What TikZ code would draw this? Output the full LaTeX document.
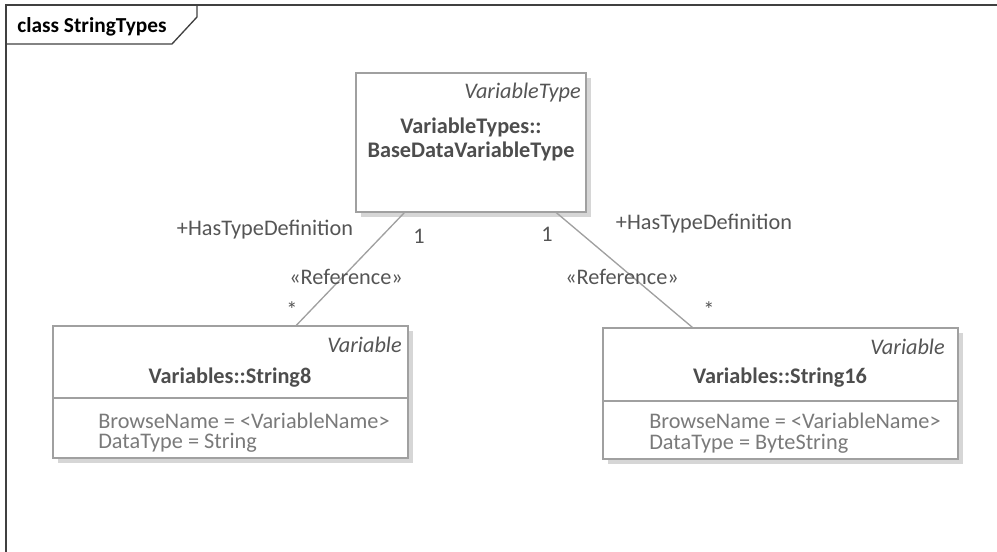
\documentclass[tikz,border=0pt]{standalone}
\usepackage{fontspec}
\setmainfont{Carlito}
\usetikzlibrary{shadows,calc}
\definecolor{txtdark}{HTML}{4D4D4D}
\definecolor{txtmid}{HTML}{555555}
\definecolor{txtlight}{HTML}{7A7A7A}
\definecolor{linegray}{HTML}{A0A0A0}
\definecolor{shadowgray}{HTML}{D6D6D6}
\definecolor{framegray}{HTML}{404040}
\begin{document}
\begin{tikzpicture}[x=0.75pt,y=-0.75pt,
  every node/.style={font=\fontsize{16.7}{20}\selectfont, inner sep=0pt},
  umlbox/.style={draw=linegray, line width=1pt, fill=white,
    general shadow={fill=shadowgray, shadow xshift=3.75pt, shadow yshift=-3.75pt}},
  stereo/.style={text=txtmid, font=\fontsize{16.7}{20}\selectfont\itshape, anchor=east},
  clsname/.style={text=txtdark, font=\fontsize{16.7}{20}\selectfont\bfseries},
  attr/.style={text=txtlight, anchor=west},
  lbl/.style={text=txtmid},
  conn/.style={draw=linegray, line width=1pt},
  framestyle/.style={draw=framegray, line width=1pt}]
\useasboundingbox (0,0) rectangle (997,552);
% frame
\draw[framestyle] (997,5) -- (6,5) -- (6,552);
\draw[framestyle] (6,44) -- (172,44) -- (197,17) -- (197,5);
\node[font=\fontsize{16}{19}\selectfont\bfseries, text=black] (frametitle) at (92,27) {class StringTypes};
% boxes
\node[umlbox, minimum width=172.5pt, minimum height=104.25pt] (top) at (471,142.5) {};
\node[umlbox, minimum width=266.25pt, minimum height=99pt] (left) at (230.5,392) {};
\node[umlbox, minimum width=266.25pt, minimum height=98.25pt] (right) at (780.5,393.5) {};
\draw[conn] (left.west |- 0,398) -- (left.east |- 0,398);
\draw[conn] (right.west |- 0,401) -- (right.east |- 0,401);
% top box text
\node[stereo] (topst) at (581,93) {VariableType};
\node[clsname] (topn1) at (471,127) {VariableTypes::};
\node[clsname] (topn2) at (471,151) {BaseDataVariableType};
% left box text
\node[stereo] (leftst) at (402,345) {Variable};
\node[clsname] (leftn) at (230,378) {Variables::String8};
\node[attr] (lefta1) at (98,421) {BrowseName = <VariableName>};
\node[attr] (lefta2) at (98,443) {DataType = String};
% right box text
\node[stereo] (rightst) at (945,347) {Variable};
\node[clsname] (rightn) at (780,378) {Variables::String16};
\node[attr] (righta1) at (649,421) {BrowseName = <VariableName>};
\node[attr] (righta2) at (649,444) {DataType = ByteString};
% connectors
\coordinate (tl) at ($(top.south west)+(49,0)$);
\coordinate (tr) at ($(top.south west)+(201,0)$);
\coordinate (lt) at ($(left.north west)+(244,0)$);
\coordinate (rt) at ($(right.north west)+(90,0)$);
\draw[conn] (tl) -- (lt);
\draw[conn] (tr) -- (rt);
% labels
\node[lbl] (l1role) at (265,230) {+HasTypeDefinition};
\node[lbl] (l1one) at (419,236) {1};
\node[lbl] (l1ref) at (346,277) {«Reference»};
\node[lbl] (l1star) at (292,310) {*};
\node[lbl] (r1role) at (704,224) {+HasTypeDefinition};
\node[lbl] (r1one) at (547,234) {1};
\node[lbl] (r1ref) at (622,277) {«Reference»};
\node[lbl] (r1star) at (709,310) {*};
\end{tikzpicture}
\end{document}
